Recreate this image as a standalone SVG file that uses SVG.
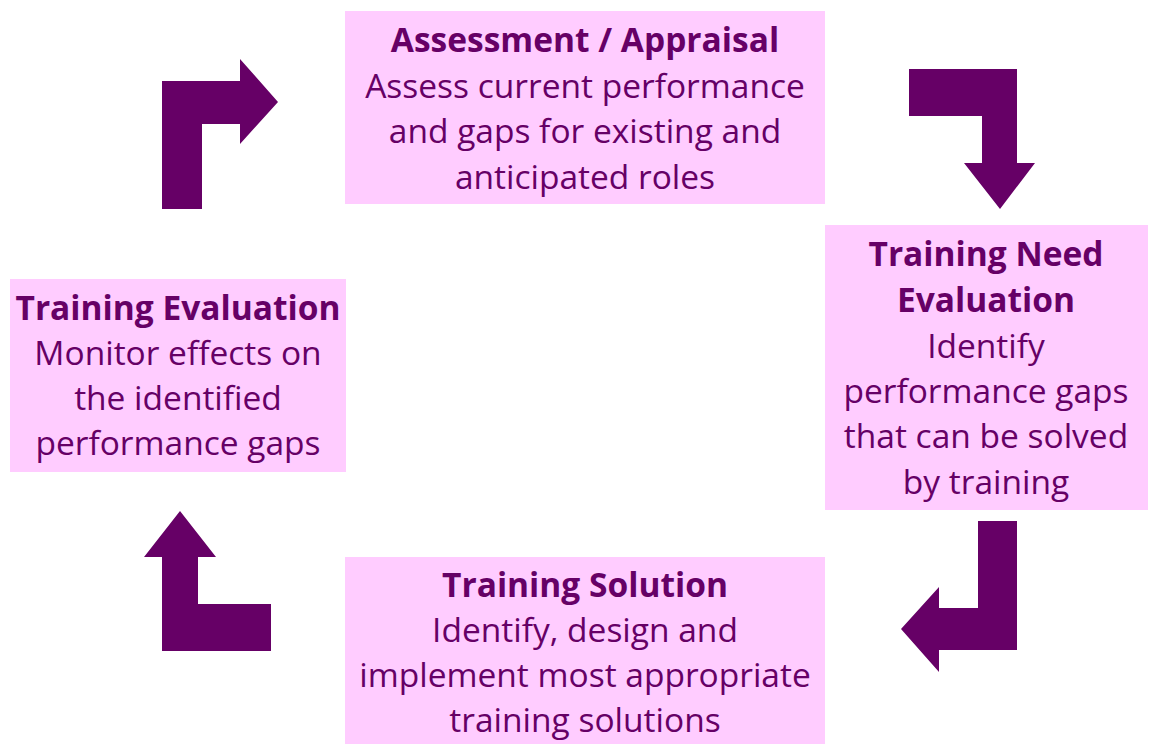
<svg xmlns="http://www.w3.org/2000/svg" width="1149" height="744" viewBox="0 0 1149 744">
<style>
.box{fill:#FFCCFF}
.t{font-family:"Open Sans","Liberation Sans",sans-serif;font-size:33.5px;fill:#660066;text-anchor:middle}
.b{font-weight:bold}
.arr{fill:#660066}
</style>
<rect width="1149" height="744" fill="#FFFFFF"/>
<g id="node-assessment">
<rect class="box" x="345" y="11" width="480" height="193"/>
<text class="t b" x="585" y="52">Assessment / Appraisal</text>
<text class="t" x="585" y="98">Assess current performance</text>
<text class="t" x="585" y="143">and gaps for existing and</text>
<text class="t" x="585" y="189">anticipated roles</text>
</g>
<g id="node-need">
<rect class="box" x="825" y="225" width="323" height="285"/>
<text class="t b" x="986" y="266">Training Need</text>
<text class="t b" x="986" y="312">Evaluation</text>
<text class="t" x="986" y="358">Identify</text>
<text class="t" x="986" y="403">performance gaps</text>
<text class="t" x="986" y="448">that can be solved</text>
<text class="t" x="986" y="494">by training</text>
</g>
<g id="node-solution">
<rect class="box" x="345" y="557" width="480" height="187"/>
<text class="t b" x="585" y="597">Training Solution</text>
<text class="t" x="585" y="642">Identify, design and</text>
<text class="t" x="585" y="687">implement most appropriate</text>
<text class="t" x="585" y="732">training solutions</text>
</g>
<g id="node-evaluation">
<rect class="box" x="10" y="279" width="336" height="193"/>
<text class="t b" x="178" y="320">Training Evaluation</text>
<text class="t" x="178" y="365">Monitor effects on</text>
<text class="t" x="178" y="410">the identified</text>
<text class="t" x="178" y="455">performance gaps</text>
</g>
<g id="connectors">
<path class="arr" d="M162,209 L162,81 L240,81 L240,59 L278,102 L240,144 L240,124 L202,124 L202,209 Z"/>
<path class="arr" d="M909,69 L1017,69 L1017,163 L1035,163 L1000,209 L964,163 L982,163 L982,116 L909,116 Z"/>
<path class="arr" d="M978,521 L1017,521 L1017,650 L939,650 L939,672 L901,629 L939,587 L939,608 L978,608 Z"/>
<path class="arr" d="M180,511 L216,557 L198,557 L198,604 L271,604 L271,651 L162,651 L162,557 L144,557 Z"/>
</g>
</svg>
